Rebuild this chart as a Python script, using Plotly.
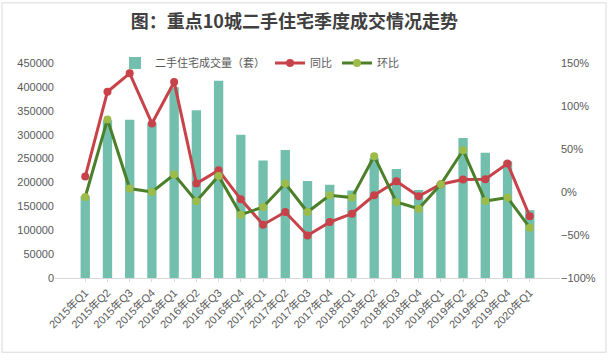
import plotly.graph_objects as go

quarters = ["2015年Q1","2015年Q2","2015年Q3","2015年Q4","2016年Q1","2016年Q2","2016年Q3","2016年Q4",
            "2017年Q1","2017年Q2","2017年Q3","2017年Q4","2018年Q1","2018年Q2","2018年Q3","2018年Q4",
            "2019年Q1","2019年Q2","2019年Q3","2019年Q4","2020年Q1"]
volume = [171000, 330000, 331000, 325000, 399000, 351000, 413000, 300000,
          246000, 268000, 203000, 195000, 183000, 251000, 228000, 184000,
          199000, 293000, 262000, 244000, 142000]
yoy = [0.18, 1.166, 1.38, 0.797, 1.28, 0.098, 0.253, -0.085,
       -0.38, -0.233, -0.505, -0.35, -0.252, -0.038, 0.125, -0.05,
       0.09, 0.144, 0.148, 0.33, -0.283]
qoq = [-0.058, 0.844, 0.04, 0.0, 0.203, -0.108, 0.187, -0.264,
       -0.175, 0.098, -0.233, -0.038, -0.065, 0.416, -0.117, -0.194,
       0.09, 0.486, -0.105, -0.065, -0.415]

font_main = "Liberation Sans, Noto Sans CJK SC, sans-serif"
fig = go.Figure()
fig.add_trace(go.Bar(x=quarters, y=volume, name="二手住宅成交量（套）",
                     marker=dict(color="#72BFAE", line=dict(width=0)), width=0.42))
fig.add_trace(go.Scatter(x=quarters, y=yoy, name="同比", yaxis="y2", mode="lines+markers",
                         line=dict(color="#C8424A", width=3),
                         marker=dict(color="#C8424A", size=8)))
fig.add_trace(go.Scatter(x=quarters, y=qoq, name="环比", yaxis="y2", mode="lines+markers",
                         line=dict(color="#4C7F2A", width=3),
                         marker=dict(color="#9DBB48", size=8)))

fig.update_layout(
    width=608, height=363,
    margin=dict(l=55, r=48, t=63, b=85),
    paper_bgcolor="white", plot_bgcolor="white",
    font=dict(family=font_main, size=11, color="#595959"),
    title=dict(text="<b>图：重点10城二手住宅季度成交情况走势</b>",
               font=dict(family="Noto Sans CJK SC", size=18, color="#404040"),
               xref="container", x=0.484, xanchor="center",
               yref="container", y=0.94, yanchor="middle"),
    showlegend=True,
    legend=dict(orientation="h", x=0.405, xanchor="center", y=1.0, yanchor="middle",
                font=dict(family="Noto Sans CJK SC", size=11, color="#595959"),
                bgcolor="rgba(0,0,0,0)", itemwidth=30, tracegroupgap=0),
    xaxis=dict(type="category", tickangle=-45, showgrid=False, showline=True,
               linecolor="#D9D9D9", linewidth=1, ticks="outside", ticklen=3, tickcolor="#D9D9D9",
               tickfont=dict(size=11, color="#595959"), automargin=False),
    yaxis=dict(range=[0, 450000], dtick=50000, tickformat="d", showgrid=False,
               zeroline=False, showline=False, tickfont=dict(size=11, color="#595959"),
               automargin=False),
    yaxis2=dict(range=[-1, 1.5], dtick=0.5, tickformat=".0%", overlaying="y", side="right",
                showgrid=False, zeroline=False, showline=False,
                tickfont=dict(size=11, color="#595959"), automargin=False),
    shapes=[dict(type="rect", xref="paper", yref="paper",
                 x0=-53/505, x1=1+46/505, y0=-74/214.4, y1=1+60/214.4,
                 line=dict(color="#D9D9D9", width=1), fillcolor="rgba(0,0,0,0)")],
)
fig.write_html("out.html", config={"displayModeBar": False},
               post_script="document.body.style.margin='0';")
